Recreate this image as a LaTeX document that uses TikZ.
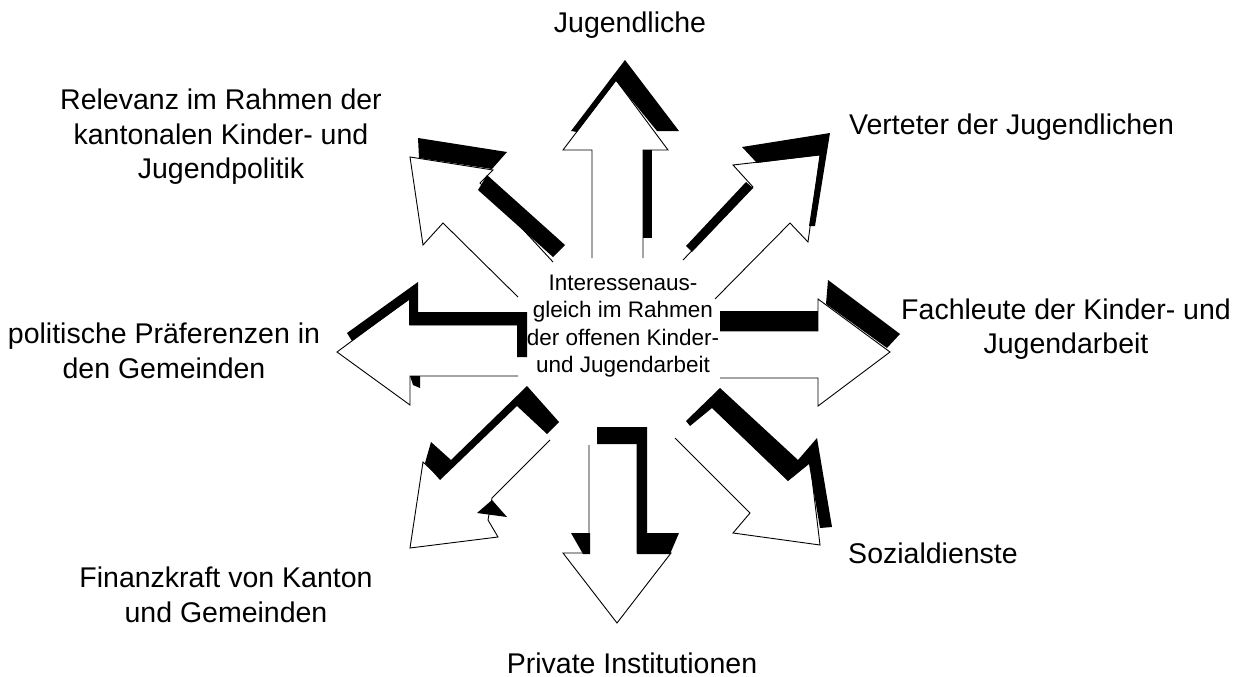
\documentclass[tikz,border=0pt]{standalone}
\usepackage{fontspec}
\setmainfont{Liberation Sans}
\begin{document}
\begin{tikzpicture}[x=1pt,y=-1pt,
  outl/.style={draw=black,line width=0.9pt,line join=miter},
  shade3d/.style={fill=black,draw=none},
  lbl/.style={align=center,inner sep=0pt,font=\fontsize{28.5}{34.5}\selectfont},
  ctr/.style={align=center,inner sep=0pt,font=\fontsize{22.5}{27.5}\selectfont}]
\useasboundingbox[fill=white] (0,0) rectangle (1242,677);

% --- up arrow
\fill[shade3d] (571,131) -- (625,60) -- (679,131) -- (657,131) -- (616,81) -- (577,132) -- cycle;
\fill[shade3d] (643,150) rectangle (652,238);
\draw[outl] (592,258) -- (592,150) -- (563,150) -- (616,80) -- (668,150) -- (643,150) -- (643,258);

% --- upper-right arrow
\fill[shade3d] (742,147) -- (830,133) -- (815,226) -- (809,226) -- (820,155) -- (757,163) -- cycle;
\fill[shade3d] (746,182) -- (753,188) -- (692,252) -- (686,246) -- cycle;
\draw[outl] (683,260) -- (753,187) -- (733,165) -- (820,155) -- (808,242) -- (790,223) -- (715,299);

% --- right arrow
\fill[shade3d] (720,311) rectangle (818,331);
\fill[shade3d] (828,280) -- (900,334) -- (887,348) -- (826,304) -- cycle;
\draw[outl] (720,331) -- (818,331) -- (818,299) -- (890,352) -- (818,406) -- (818,378) -- (720,378);

% --- down-right arrow
\fill[shade3d] (686,421) -- (720,388) -- (798,460) -- (817,438) -- (832,527) -- (820,528) -- (809,464) -- (788,481) -- (712,408) -- (690,426) -- cycle;
\draw[outl] (675,438) -- (750,513) -- (733,533) -- (820,545) -- (810,462) -- (788,480) -- (712,407);

% --- down arrow
\fill[shade3d] (597,427) -- (647,427) -- (647,533) -- (679,533) -- (670,554) -- (637,554) -- (637,444) -- (597,444) -- cycle;
\fill[shade3d] (571,533) -- (590,533) -- (590,554) -- (583,554) -- cycle;
\draw[outl] (589,445) -- (589,553) -- (563,553) -- (617,623) -- (671,553) -- (637,553) -- (637,444);

% --- down-left arrow
\fill[shade3d] (527,386) -- (559,422) -- (547,434) -- (517,406) -- (440,480) -- (425,463) -- (431,442) -- (451,460) -- cycle;
\fill[shade3d] (477,513) -- (492,500) -- (507,517) -- cycle;
\draw[outl] (550,440) -- (492,498) -- (488,520) -- (498,537) -- (410,548) -- (423,462) -- (437,475);

% --- left arrow
\fill[shade3d] (347,333) -- (418,282) -- (418,312) -- (527,312) -- (527,357) -- (517,357) -- (517,325) -- (409,325) -- (409,300) -- (352,341) -- cycle;
\fill[shade3d] (410,376) -- (420,376) -- (420,388) -- (413,385) -- cycle;
\draw[outl] (518,376) -- (410,376) -- (410,405) -- (337,352) -- (410,298) -- (410,325) -- (517,325);

% --- upper-left arrow
\fill[shade3d] (418,138) -- (507,152) -- (492,169) -- (419,158) -- cycle;
\fill[shade3d] (478,190) -- (487,175) -- (565,245) -- (553,257) -- cycle;
\draw[outl] (518,297) -- (443,223) -- (423,245) -- (410,157) -- (493,170) -- (480,183) -- (553,262);

% --- texts
\node[ctr] (center) at (623,326) {Interessenaus-\\gleich im Rahmen\\der offenen Kinder-\\und Jugendarbeit};
\node[lbl] (jug) at (630,25) {Jugendliche};
\node[lbl] (rel) at (221,137) {Relevanz im Rahmen der\\kantonalen Kinder- und\\Jugendpolitik};
\node[lbl,anchor=west] (vert) at (849,127) {Verteter der Jugendlichen};
\node[lbl] (fach) at (1066,329) {Fachleute der Kinder- und\\Jugendarbeit};
\node[lbl] (pol) at (164,351) {politische Präferenzen in\\den Gemeinden};
\node[lbl] (soz) at (933,553) {Sozialdienste};
\node[lbl] (fin) at (226,595) {Finanzkraft von Kanton\\und Gemeinden};
\node[lbl] (priv) at (632,663) {Private Institutionen};
\end{tikzpicture}
\end{document}
